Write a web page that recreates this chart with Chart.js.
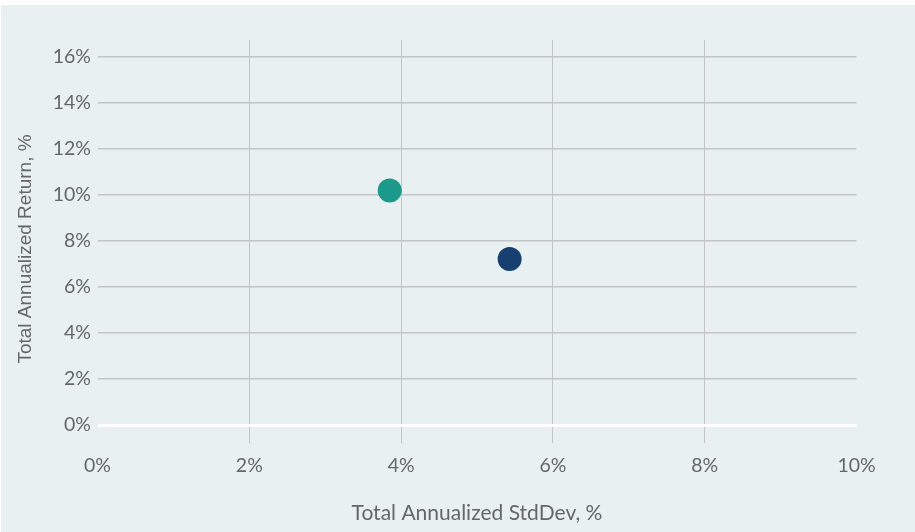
<!DOCTYPE html>
<html>
<head>
<meta charset="utf-8">
<script src="https://cdn.jsdelivr.net/npm/chart.js@4"></script>
<style>
  html, body { margin: 0; padding: 0; background: #ffffff; }
  #wrap { position: absolute; left: 0; top: 0; width: 915px; height: 532px; }
</style>
</head>
<body>
<div id="wrap"><canvas id="c" width="915" height="532"></canvas></div>
<script>
// Data
const stdDev = [3.85, 5.43];          // Total Annualized StdDev, %
const annReturn = [10.2, 7.22];       // Total Annualized Return, %
const xTicks = [0, 2, 4, 6, 8, 10];
const yTicks = [0, 2, 4, 6, 8, 10, 12, 14, 16];
const xTitle = 'Total Annualized StdDev, %';
const yTitle = 'Total Annualized Return, %';

const pointColors = ['#1b998b', '#173f6f'];
const FONT = 'Lato, "Open Sans", sans-serif';

const bgPlugin = {
  id: 'bg',
  beforeDraw(chart) {
    const ctx = chart.ctx;
    ctx.save();
    ctx.fillStyle = '#e8f0f2';
    ctx.fillRect(1, 5, chart.width - 1, chart.height - 5);
    ctx.restore();
  }
};

// y-axis title drawn as canvas text (rotated), positioned like the reference
const yTitlePlugin = {
  id: 'yTitle',
  afterDraw(chart) {
    const ctx = chart.ctx;
    ctx.save();
    ctx.translate(26, 249);
    ctx.rotate(-Math.PI / 2);
    ctx.font = '19px "Liberation Sans", Arial, sans-serif';
    ctx.fillStyle = '#666666';
    ctx.textAlign = 'center';
    ctx.textBaseline = 'middle';
    ctx.fillText(yTitle, 0, 0);
    ctx.restore();
  }
};

new Chart(document.getElementById('c'), {
  type: 'scatter',
  data: {
    datasets: [{
      data: stdDev.map((x, i) => ({ x: x, y: annReturn[i] })),
      backgroundColor: pointColors,
      borderColor: pointColors,
      pointRadius: 12,
      pointHoverRadius: 12,
      borderWidth: 0
    }]
  },
  options: {
    responsive: false,
    animation: false,
    events: [],
    layout: { padding: { left: 0, top: 40, right: 58.5, bottom: 0 } },
    plugins: { legend: { display: false }, tooltip: { enabled: false } },
    scales: {
      x: {
        type: 'linear',
        min: 0, max: 10,
        afterBuildTicks(scale) { scale.ticks = xTicks.map(v => ({ value: v })); },
        afterFit(scale) { scale.height = 89; },
        border: { display: false },
        grid: {
          drawTicks: false,
          lineWidth: 1,
          color: (c) => (c.tick && (c.tick.value === 0 || c.tick.value === 10)) ? 'rgba(0,0,0,0)' : '#c2c4c5'
        },
        ticks: {
          padding: 11,
          color: '#666666',
          font: { family: FONT, size: 19.5 },
          callback: (v) => v + '%'
        },
        title: {
          display: true,
          text: xTitle,
          color: '#666666',
          font: { family: FONT, size: 21 },
          padding: { top: 0, bottom: 6.5 }
        }
      },
      y: {
        type: 'linear',
        min: -0.78, max: 16.74,
        afterBuildTicks(scale) { scale.ticks = yTicks.map(v => ({ value: v })); },
        afterFit(scale) { scale.width = 97.5; },
        border: { display: false },
        grid: {
          drawTicks: false,
          lineWidth: (c) => (c.tick && c.tick.value === 0) ? 3 : 1.5,
          color: (c) => (c.tick && c.tick.value === 0) ? '#ffffff' : '#c2c4c5'
        },
        ticks: {
          padding: 6.5,
          color: '#666666',
          font: { family: FONT, size: 19.5 },
          callback: (v) => v + '%'
        },
        title: { display: false }
      }
    }
  },
  plugins: [bgPlugin, yTitlePlugin]
});
</script>
</body>
</html>
